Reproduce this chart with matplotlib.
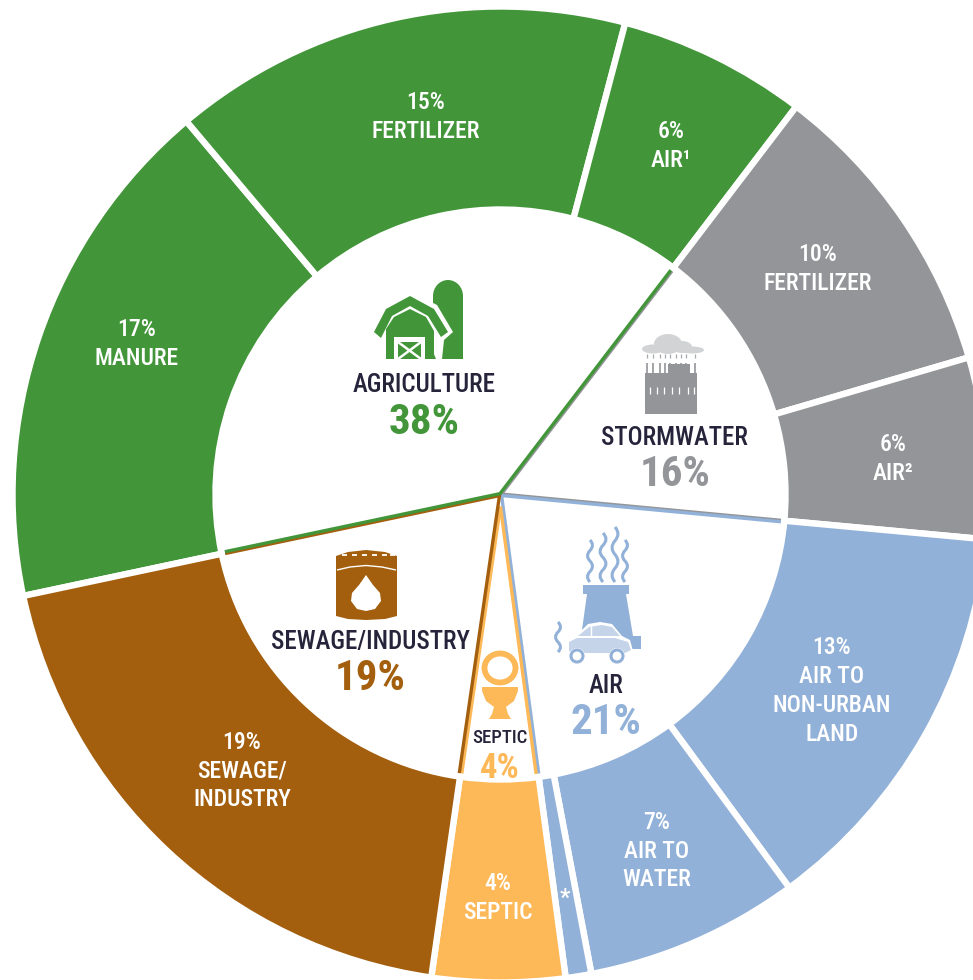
import numpy as np
import matplotlib
matplotlib.use("Agg")
import matplotlib.pyplot as plt
from matplotlib.patches import Polygon, Rectangle, Ellipse, Circle, PathPatch
from matplotlib.path import Path

plt.rcParams["font.family"] = ["Roboto Condensed", "Liberation Sans", "DejaVu Sans"]

# ---- DATA ----
# outer ring, clockwise from the manure wedge (shares)
ring_values = [17.2, 15.25, 6.25, 10.1, 6.0, 13.45, 7.1, 0.85, 4.4, 19.4]
ring_labels = ["17%\nMANURE", "15%\nFERTILIZER", "6%\nAIR¹", "10%\nFERTILIZER", "6%\nAIR²",
               "13%\nAIR TO\nNON-URBAN\nLAND", "7%\nAIR TO\nWATER", "*", "4%\nSEPTIC",
               "19%\nSEWAGE/\nINDUSTRY"]

# inner pie, clockwise from stormwater
inner_values = [16.1, 21.4, 4.4, 19.4, 38.7]
inner_names = ["STORMWATER", "AIR", "SEPTIC", "SEWAGE/INDUSTRY", "AGRICULTURE"]
inner_pcts = ["16%", "21%", "4%", "19%", "38%"]

GREEN = "#429639"
GREY = "#939598"
BLUE = "#92B1D8"
BROWN = "#A35F0E"
ORANGE = "#FDB858"
DARK = "#26243a"
ring_colors = [GREEN, GREEN, GREEN, GREY, GREY, BLUE, BLUE, BLUE, ORANGE, BROWN]
inner_colors = [GREY, BLUE, ORANGE, BROWN, GREEN]

W, H = 973, 980
fig = plt.figure(figsize=(W / 100, H / 100), dpi=100)
ax = fig.add_axes([0, 0, 1, 1])


def py(y):
    # picture rows run downward
    return H - y


cx, cy = 500.5, py(494.5)

# ---- INNER PIE ----
wedges, _ = ax.pie(inner_values, colors=["white"] * 5, startangle=52.6, counterclock=False,
                   center=(cx, cy), radius=285, explode=[1, 1.5, 12, 1.5, 1],
                   wedgeprops=dict(linewidth=2.4))
for w, c in zip(wedges, inner_colors):
    w.set_edgecolor(c)
    w.set_zorder(1)

# ---- OUTER RING ----
rwedges, _ = ax.pie(ring_values, colors=ring_colors, startangle=-168, counterclock=False,
                    center=(cx, cy), radius=488,
                    wedgeprops=dict(width=203, edgecolor="white", linewidth=4.6))
for w in rwedges:
    w.set_zorder(2)

ax.set_xlim(0, W)
ax.set_ylim(0, H)
ax.set_aspect("equal")
ax.axis("off")

# ---- RING LABELS ----
ring_xy = [(137, 344), (426, 117), (671, 146), (818, 269), (893, 459),
           (832, 691), (657, 851), (565, 898), (498, 898), (242, 771)]
for (x, y), txt in zip(ring_xy, ring_labels):
    ax.text(x, py(y), txt, color="white", fontsize=17, fontweight=500, ha="center",
            va="center", linespacing=1.32, zorder=5)

# ---- INNER LABELS ----
name_xy = [(674, 438), (606, 686), (500, 738), (370, 642), (424, 385)]
pct_xy = [(675, 475), (606, 723), (500, 768), (370, 679), (424, 422)]
for i in range(5):
    small = inner_names[i] == "SEPTIC"
    ax.text(name_xy[i][0], py(name_xy[i][1]), inner_names[i], color=DARK,
            fontsize=13.5 if small else 18, fontweight=500, ha="center", va="center", zorder=5)
    ax.text(pct_xy[i][0], py(pct_xy[i][1]), inner_pcts[i], color=inner_colors[i],
            fontsize=25 if small else 31, fontweight="bold", ha="center", va="center", zorder=5)


# ---- ICONS ----
def poly(pts, color, z=4, **kw):
    ax.add_patch(Polygon([(x, py(y)) for x, y in pts], closed=True, fc=color, ec="none", zorder=z, **kw))


def rect(x0, y0, x1, y1, color, z=4):
    ax.add_patch(Rectangle((x0, py(y1)), x1 - x0, y1 - y0, fc=color, ec="none", zorder=z))


def line(pts, color, lw, z=4):
    xs, ys = zip(*pts)
    ax.plot(xs, [py(y) for y in ys], color=color, lw=lw, zorder=z, solid_capstyle="butt")


def wavy(x, y0, y1, color, amp=5, n=4, lw=2.2, z=4):
    step = (y1 - y0) / n
    verts = [(x, py(y0))]
    codes = [Path.MOVETO]
    side = 1
    for i in range(n):
        verts += [(x + side * amp, py(y0 + step * (i + 0.5))), (x, py(y0 + step * (i + 1)))]
        codes += [Path.CURVE3, Path.CURVE3]
        side = -side
    ax.add_patch(PathPatch(Path(verts, codes), fc="none", ec=color, lw=lw, zorder=z))


# barn and silo
rect(433, 295, 463, 359, GREEN)
ax.add_patch(Ellipse((448, py(296)), 30, 32, fc=GREEN, ec="none", zorder=4))
poly([(370, 336), (383, 305), (410, 291), (437, 305), (453, 332), (444, 340), (442, 359), (436, 359),
      (428, 340)], "white", z=4.2)
poly([(374, 332), (386, 309), (410, 296), (434, 309), (448, 332), (441, 337), (428, 316),
      (410, 306), (392, 316), (381, 338)], GREEN, z=4.4)
poly([(386, 359), (386, 329), (394, 317), (410, 309), (426, 317), (434, 331), (434, 359)], GREEN, z=4.4)
rect(394, 337, 425, 359, "white", z=4.5)
rect(398, 342, 421, 359, GREEN, z=4.55)
line([(398, 342), (421, 359)], "white", 1.8, z=4.6)
line([(421, 342), (398, 359)], "white", 1.8, z=4.6)

# stormwater
CLOUD = "#d1d3d4"
ax.add_patch(Ellipse((668, py(344)), 28, 20, fc=CLOUD, ec="none", zorder=4))
ax.add_patch(Ellipse((682, py(347)), 20, 12, fc=CLOUD, ec="none", zorder=4))
ax.add_patch(Ellipse((653, py(349)), 22, 9, fc=CLOUD, ec="none", zorder=4))
ax.add_patch(Ellipse((692, py(350)), 24, 7, fc=CLOUD, ec="none", zorder=4))
rect(645, 373, 697, 414, GREY)
for x in [647, 653, 660, 665, 670, 676, 681, 686, 695]:
    line([(x, 363), (x, 373)], GREY, 1.2)
    line([(x, 354), (x, 358)], "#a7a9ac", 0.9)
rect(668, 364, 690, 373, GREY)
for x in [650, 657, 664, 672, 679, 688, 694]:
    line([(x, 387), (x, 394)], "white", 0.9, z=4.2)

# barrel
poly([(336, 556), (348, 552), (366, 550), (385, 552), (397, 556), (397, 616), (385, 619), (366, 620),
      (348, 619), (336, 616)], BROWN)
for x in [342, 352, 362, 372, 382, 390]:
    line([(x, 555.5), (x + 5, 555.5)], "white", 1.3, z=4.2)
line([(337, 570), (350, 567), (366, 565.5), (382, 567), (396, 570)], "white", 1.0, z=4.2)
poly([(366, 575), (373, 585), (380, 593), (381, 601), (375, 609), (366, 611), (357, 609), (351, 601),
      (352, 593), (359, 585)], "white", z=4.2)

# toilet
ax.add_patch(Ellipse((500, py(668)), 31, 29, fc="none", ec=ORANGE, lw=4.2, zorder=4))
poly([(482, 687), (518, 687), (518, 691), (514, 701), (506, 707), (508, 714), (511, 719), (489, 719),
      (492, 714), (494, 707), (486, 701), (482, 691)], ORANGE)

# factory and car
rect(583, 585, 629, 594, BLUE)
poly([(587, 594), (626, 594), (633, 636), (641, 636), (641, 649), (620, 649), (582, 630)], BLUE)
poly([(566, 652), (567, 640), (576, 636), (588, 624), (600, 622), (612, 624), (622, 636), (630, 640), (633, 651),
      (625, 655), (572, 655)], "white", z=4.2)
poly([(569, 651), (569, 642), (577, 638), (615, 638), (628, 642), (631, 650), (625, 653), (573, 653)], "#c6d4ea", z=4.3)
poly([(578, 636), (589, 627), (602, 625), (612, 627), (620, 636)], "#c6d4ea", z=4.3)
line([(591, 626), (591, 637)], "white", 1, z=4.4)
for x in [577, 617]:
    ax.add_patch(Circle((x, py(656)), 8, fc="white", ec="none", zorder=4.4))
    ax.add_patch(Circle((x, py(656)), 6, fc="none", ec=BLUE, lw=2.2, zorder=4.5))
wavy(590, 540, 582, BLUE, amp=5)
wavy(603, 533, 582, BLUE, amp=6)
wavy(615, 527, 582, BLUE, amp=6)
wavy(625, 540, 582, BLUE, amp=5)
wavy(558, 622, 652, BLUE, amp=5, n=3)

fig.savefig("out.png", dpi=100)
